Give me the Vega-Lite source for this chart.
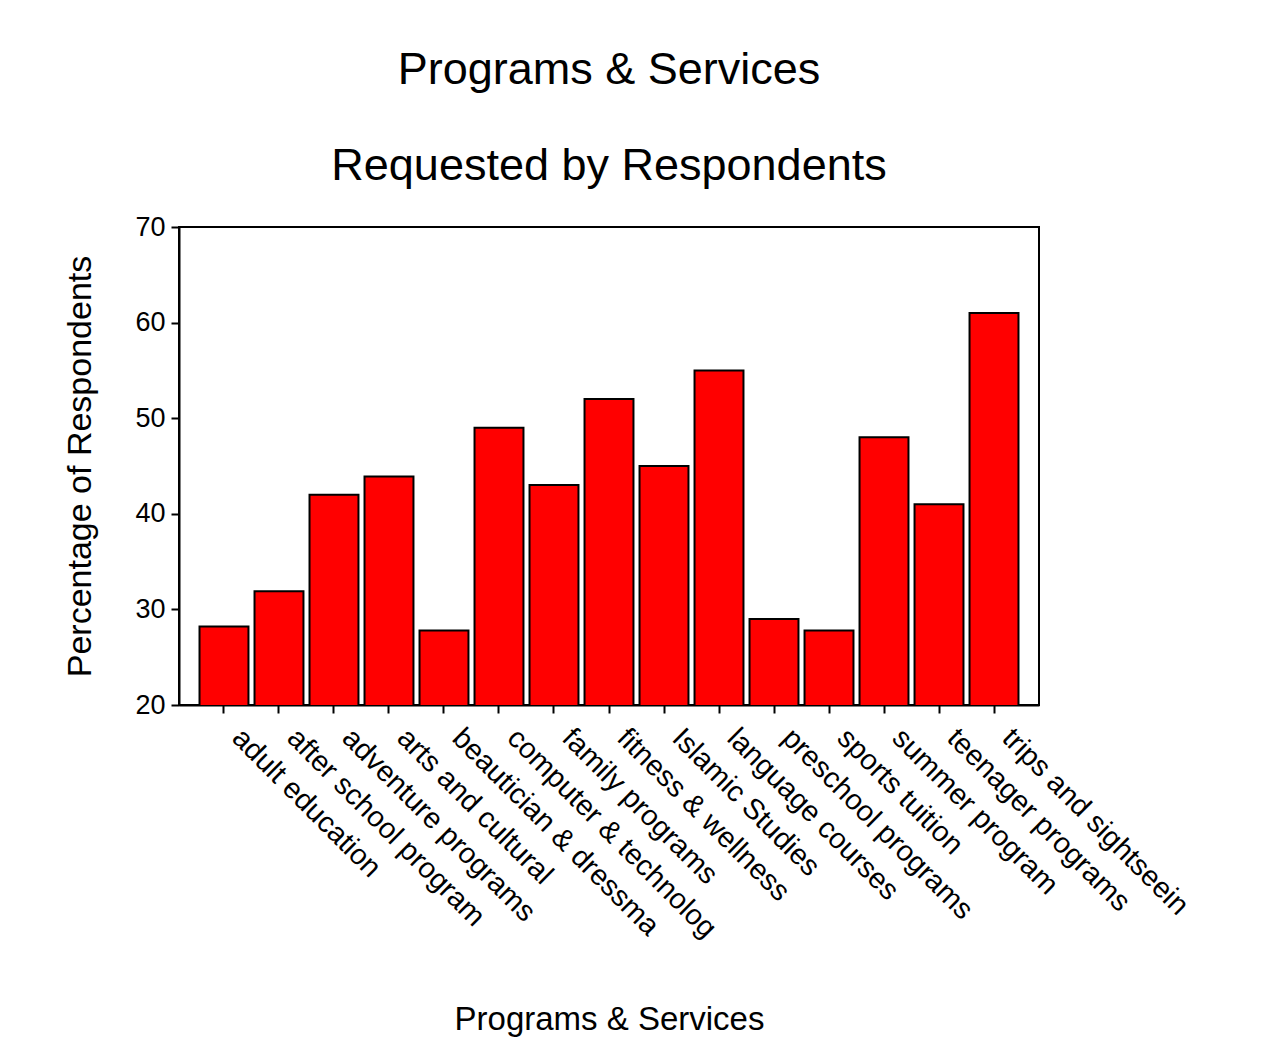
{
  "$schema": "https://vega.github.io/schema/vega-lite/v6.json",
  "autosize": "none",
  "padding": {"left": 179, "top": 227, "right": 241, "bottom": 352},
  "width": 860,
  "height": 478,
  "background": "white",
  "title": {
    "text": ["Programs & Services", "Requested by Respondents"],
    "font": "Liberation Sans",
    "fontSize": 45,
    "fontWeight": "normal",
    "color": "black",
    "lineHeight": 96,
    "offset": 24
  },
  "config": {
    "view": {"stroke": "black", "strokeWidth": 2},
    "axis": {
      "labelFont": "Liberation Sans",
      "titleFont": "Liberation Sans",
      "labelColor": "black",
      "titleColor": "black",
      "domainColor": "black",
      "tickColor": "black",
      "domainWidth": 2,
      "tickWidth": 2,
      "tickSize": 8,
      "grid": false,
      "titleFontWeight": "normal"
    }
  },
  "data": {
    "values": [
      {"program": "adult education", "pct": 28.2},
      {"program": "after school program", "pct": 31.9},
      {"program": "adventure programs", "pct": 42},
      {"program": "arts and cultural", "pct": 43.9},
      {"program": "beautician & dressma", "pct": 27.8},
      {"program": "computer & technolog", "pct": 49},
      {"program": "family programs", "pct": 43},
      {"program": "fitness & wellness", "pct": 52},
      {"program": "Islamic Studies", "pct": 45},
      {"program": "language courses", "pct": 55},
      {"program": "preschool programs", "pct": 29},
      {"program": "sports tuition", "pct": 27.8},
      {"program": "summer program", "pct": 48},
      {"program": "teenager programs", "pct": 41},
      {"program": "trips and sightseein", "pct": 61}
    ]
  },
  "mark": {"type": "bar", "fill": "#ff0000", "stroke": "black", "strokeWidth": 2, "clip": true},
  "encoding": {
    "x": {
      "field": "program",
      "type": "nominal",
      "sort": null,
      "scale": {"paddingInner": 0.11, "paddingOuter": 0.373},
      "axis": {
        "title": "Programs & Services",
        "titleFontSize": 33,
        "titleY": 298,
        "titleBaseline": "top",
        "labelFontSize": 29,
        "labelAngle": 45,
        "labelAlign": "left",
        "labelBaseline": "middle",
        "labelPadding": 20,
        "labelOffset": 13,
        "labelLimit": 400
      }
    },
    "y": {
      "field": "pct",
      "type": "quantitative",
      "scale": {"domain": [20, 70], "zero": false, "nice": false},
      "axis": {
        "title": "Percentage of Respondents",
        "titleFontSize": 34,
        "titlePadding": 37,
        "labelFontSize": 27,
        "labelPadding": 6,
        "values": [20, 30, 40, 50, 60, 70]
      }
    }
  }
}
